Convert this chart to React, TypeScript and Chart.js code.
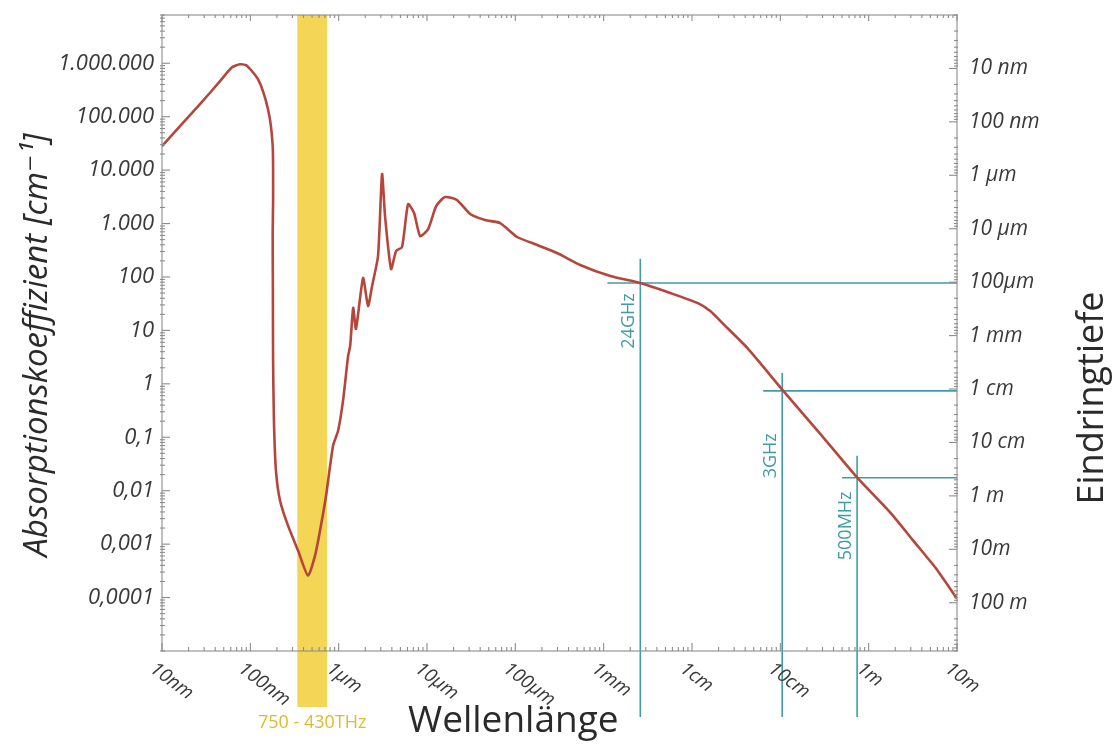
import React, { useEffect, useRef } from "react";
import { Chart, registerables } from "chart.js";

Chart.register(...registerables);

// Wavelength in metres, absorption coefficient in cm^-1
const wavelengths = [
  1e-8, 1.6e-8, 2.69e-8, 4.54e-8, 6.2e-8, 7.64e-8, 8.94e-8, 1.045e-7, 1.22e-7, 1.39e-7,
  1.585e-7, 1.71e-7, 1.8e-7, 1.81e-7, 1.79e-7, 1.8e-7, 1.81e-7, 1.85e-7, 1.95e-7, 2.17e-7,
  2.67e-7, 3.47e-7, 4.5e-7, 5.4e-7, 6.15e-7, 7.2e-7, 8.64e-7, 9.85e-7, 1.12e-6, 1.28e-6,
  1.35e-6, 1.46e-6, 1.57e-6, 1.89e-6, 2.15e-6, 2.39e-6, 2.79e-6, 3.1e-6, 3.35e-6, 3.92e-6,
  4.47e-6, 5.22e-6, 6.11e-6, 7.14e-6, 8.36e-6, 1.03e-5, 1.27e-5, 1.6e-5, 2.19e-5, 3.08e-5,
  4.55e-5, 6.73e-5, 1.05e-4, 1.77e-4, 2.97e-4, 5.42e-4, 1.19e-3, 2.59e-3, 5.66e-3, 1.15e-2,
  1.61e-2, 2.2e-2, 4.22e-2, 0.108, 0.283, 0.743, 1.76, 3.2, 5.68, 10,
];
const absorption = [
  28100, 66400, 171000, 461000, 841000, 958000, 918000, 708000, 502000, 300000,
  138000, 66400, 22700, 2640, 637, 54.7, 2.69, 0.203, 0.0237, 0.0065,
  0.00222, 7.57e-4, 2.58e-4, 6.1e-4, 1.79e-3, 8.07e-3, 0.0694, 0.132, 0.481, 3.33,
  5.13, 26.4, 10.7, 95.7, 28.7, 67.9, 247, 8410, 1380, 141,
  306, 364, 2310, 1570, 583, 789, 2120, 3130, 2750, 1510,
  1160, 1020, 560, 397, 281, 168, 104, 77.3, 50.2, 32.7,
  23.1, 13.8, 4.71, 0.74, 0.116, 0.0175, 3.88e-3, 1.16e-3, 3.64e-4, 9.57e-5,
];

const xTickValues = [1e-8, 1e-7, 1e-6, 1e-5, 1e-4, 1e-3, 1e-2, 1e-1, 1, 10];
const xTickLabels = ["10nm", "100nm", "1µm", "10µm", "100µm", "1mm", "1cm", "10cm", "1m", "10m"];
const yTickValues = [1e6, 1e5, 1e4, 1e3, 100, 10, 1, 0.1, 0.01, 0.001, 0.0001];
const yTickLabels = ["1.000.000", "100.000", "10.000", "1.000", "100", "10", "1", "0,1", "0,01", "0,001", "0,0001"];
const depthTickValues = [1e-8, 1e-7, 1e-6, 1e-5, 1e-4, 1e-3, 1e-2, 1e-1, 1, 10, 100];
const depthTickLabels = ["10 nm", "100 nm", "1 µm", "10 µm", "100µm", "1 mm", "1 cm", "10 cm", "1 m", "10m", "100 m"];

const markerLabels = ["24GHz", "3GHz", "500MHz"];
const markerWavelength = [2.6e-3, 0.105, 0.74];
const markerAbsorption = [77, 0.74, 0.0175];
const markerTop = [219, 1.6, 0.045];
const markerStart = [1.1e-3, 0.064, 0.5];
const markerLabelCenter = [15, 0.045, 0.0022];

const visibleBand = [3.4e-7, 7.4e-7];
const visibleBandLabel = "750 - 430THz";

const CURVE = "#b4463c";
const TEAL = "#3f9ca6";
const FRAME = "#8c8c8c";
const TEXT = "#3a3a3a";
const FONT = '"Open Sans", "DejaVu Sans", sans-serif';

function minorValues(min: number, max: number): number[] {
  const out: number[] = [];
  for (let e = Math.floor(Math.log10(min)); e <= Math.ceil(Math.log10(max)); e++) {
    for (let m = 1; m <= 9; m++) {
      const v = m * Math.pow(10, e);
      if (v >= min * 0.999 && v <= max * 1.001) out.push(v);
    }
  }
  return out;
}

const decorPlugin = {
  id: "decor",
  beforeDatasetsDraw(chart: any) {
    const { ctx, chartArea: a, scales } = chart;
    const x = scales.x;
    const y = scales.y;
    const b0 = x.getPixelForValue(visibleBand[0]);
    const b1 = x.getPixelForValue(visibleBand[1]);
    ctx.save();
    ctx.fillStyle = "rgba(242, 207, 62, 0.88)";
    ctx.fillRect(b0, a.top, b1 - b0, a.bottom + 56 - a.top);
    ctx.strokeStyle = TEAL;
    ctx.lineWidth = 1.6;
    for (let i = 0; i < markerWavelength.length; i++) {
      const px = x.getPixelForValue(markerWavelength[i]);
      const top = y.getPixelForValue(markerTop[i]);
      ctx.beginPath();
      ctx.moveTo(px, top);
      ctx.lineTo(px, a.bottom + 66);
      ctx.stroke();
    }
    ctx.restore();
  },
  afterDraw(chart: any) {
    const { ctx, chartArea: a, scales } = chart;
    const x = scales.x;
    const y = scales.y;
    const y2 = scales.y2;
    ctx.save();
    ctx.strokeStyle = FRAME;
    ctx.lineWidth = 1.1;
    ctx.strokeRect(a.left, a.top, a.right - a.left, a.bottom - a.top);

    const xMajors = new Set(xTickValues.map((v) => Math.round(Math.log10(v) * 1000)));
    for (const v of minorValues(x.min, x.max)) {
      const px = x.getPixelForValue(v);
      const major = xMajors.has(Math.round(Math.log10(v) * 1000));
      const len = major ? 8 : 4;
      ctx.beginPath();
      ctx.moveTo(px, a.bottom);
      ctx.lineTo(px, a.bottom - len);
      ctx.moveTo(px, a.top);
      ctx.lineTo(px, a.top + (major ? 6 : 3));
      ctx.stroke();
    }
    const yMajors = new Set(yTickValues.map((v) => Math.round(Math.log10(v) * 1000)));
    for (const v of minorValues(y.min, y.max)) {
      const py = y.getPixelForValue(v);
      const major = yMajors.has(Math.round(Math.log10(v) * 1000));
      ctx.beginPath();
      ctx.moveTo(a.left - (major ? 0 : 2), py);
      ctx.lineTo(a.left + (major ? 8 : 3), py);
      ctx.stroke();
    }
    const dMajors = new Set(depthTickValues.map((v) => Math.round(Math.log10(v) * 1000)));
    for (const v of minorValues(y2.min, y2.max)) {
      const py = y2.getPixelForValue(v);
      const major = dMajors.has(Math.round(Math.log10(v) * 1000));
      ctx.beginPath();
      ctx.moveTo(a.right + (major ? 0 : 1), py);
      ctx.lineTo(a.right - (major ? 8 : 3), py);
      ctx.stroke();
    }

    ctx.fillStyle = TEXT;
    ctx.font = `italic 22px ${FONT}`;
    ctx.textAlign = "right";
    ctx.textBaseline = "middle";
    yTickValues.forEach((v, i) => {
      ctx.fillText(yTickLabels[i], a.left - 8, y.getPixelForValue(v));
    });
    ctx.font = `italic 21px ${FONT}`;
    ctx.textAlign = "left";
    depthTickValues.forEach((v, i) => {
      ctx.fillText(depthTickLabels[i], a.right + 12, y2.getPixelForValue(v));
    });
    ctx.font = `italic 19px ${FONT}`;
    ctx.textBaseline = "top";
    xTickValues.forEach((v, i) => {
      const px = x.getPixelForValue(v);
      ctx.save();
      ctx.translate(px - 4, a.bottom + 8);
      ctx.rotate((37 * Math.PI) / 180);
      ctx.textAlign = "left";
      ctx.fillText(xTickLabels[i], 0, 0);
      ctx.restore();
    });

    ctx.fillStyle = TEAL;
    ctx.font = `18px ${FONT}`;
    ctx.textAlign = "center";
    ctx.textBaseline = "bottom";
    markerLabels.forEach((lab, i) => {
      const px = x.getPixelForValue(markerWavelength[i]);
      const py = y.getPixelForValue(markerLabelCenter[i]);
      ctx.save();
      ctx.translate(px - 2, py);
      ctx.rotate(-Math.PI / 2);
      ctx.fillText(lab, 0, 0);
      ctx.restore();
    });

    const b0 = x.getPixelForValue(visibleBand[0]);
    const b1 = x.getPixelForValue(visibleBand[1]);
    ctx.fillStyle = "#e0bb2c";
    ctx.font = `18px ${FONT}`;
    ctx.textAlign = "center";
    ctx.textBaseline = "middle";
    ctx.fillText(visibleBandLabel, (b0 + b1) / 2, a.bottom + 72);

    ctx.fillStyle = "#2a2a2a";
    ctx.font = `37px ${FONT}`;
    ctx.textAlign = "left";
    ctx.textBaseline = "middle";
    ctx.fillText("Wellenlänge", 408, a.bottom + 70);

    ctx.font = `italic 33px ${FONT}`;
    ctx.textAlign = "center";
    ctx.save();
    ctx.translate(38, 345);
    ctx.rotate(-Math.PI / 2);
    ctx.fillText("Absorptionskoeffizient [cm⁻¹]", 0, 0);
    ctx.restore();

    ctx.font = `36px ${FONT}`;
    ctx.save();
    ctx.translate(1093, 398);
    ctx.rotate(-Math.PI / 2);
    ctx.fillText("Eindringtiefe", 0, 0);
    ctx.restore();

    ctx.restore();
  },
};

export default function App() {
  const canvasRef = useRef<HTMLCanvasElement | null>(null);

  useEffect(() => {
    if (!canvasRef.current) return;
    const curve = wavelengths.map((w, i) => ({ x: w, y: absorption[i] }));
    const markerSets = markerAbsorption.map((v, i) => ({
      label: markerLabels[i],
      data: [
        { x: markerStart[i], y: v },
        { x: xTickValues[xTickValues.length - 1], y: v },
      ],
      borderColor: TEAL,
      borderWidth: 1.6,
      pointRadius: 0,
      tension: 0,
      order: 2,
    }));
    const chart = new Chart(canvasRef.current, {
      type: "line",
      data: {
        datasets: [
          {
            label: "Absorptionskoeffizient",
            data: curve,
            borderColor: CURVE,
            borderWidth: 2.6,
            pointRadius: 0,
            tension: 0.2,
            order: 1,
          },
          ...markerSets,
        ],
      },
      options: {
        animation: false,
        responsive: false,
        maintainAspectRatio: false,
        parsing: { xAxisKey: "x", yAxisKey: "y" },
        layout: { padding: { left: 162, right: 163, top: 15, bottom: 100 } },
        plugins: { legend: { display: false }, tooltip: { enabled: false } },
        scales: {
          x: { type: "logarithmic", min: 1e-8, max: 10, display: false },
          y: { type: "logarithmic", min: 1e-5, max: 8e6, display: false },
          y2: { type: "logarithmic", min: 1e-9, max: 800, reverse: true, display: false, position: "right" },
        },
      },
      plugins: [decorPlugin],
    } as any);
    return () => chart.destroy();
  }, []);

  return (
    <div style={{ position: "fixed", left: 0, top: 0, width: 1120, height: 751, background: "#fff" }}>
      <canvas ref={canvasRef} width={1120} height={751} />
    </div>
  );
}
